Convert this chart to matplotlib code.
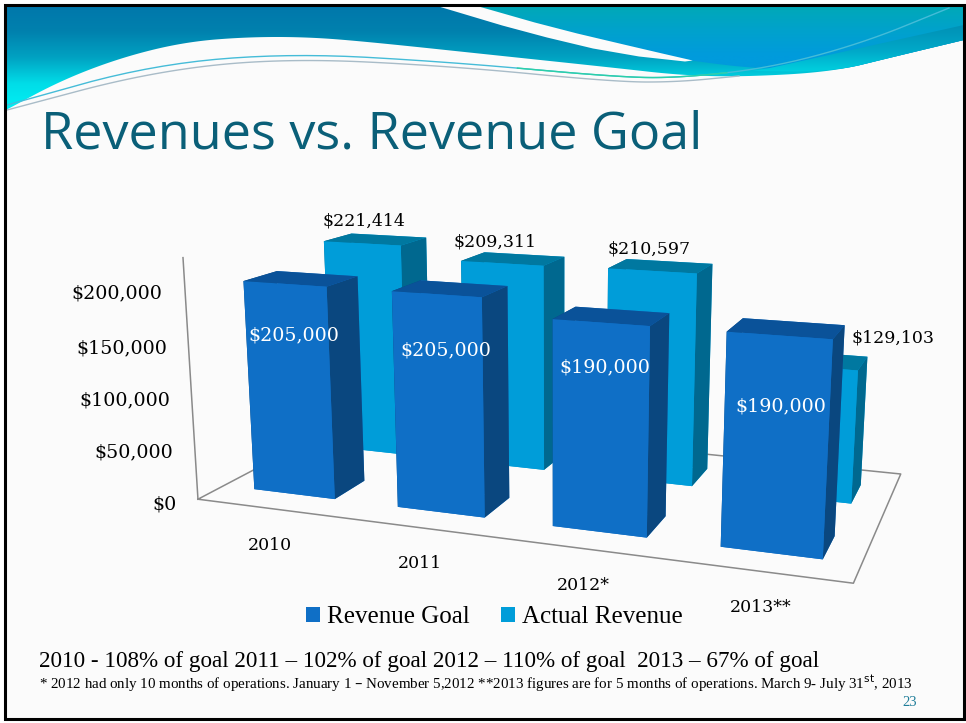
import numpy as np
import matplotlib
matplotlib.use('Agg')
import matplotlib.pyplot as plt
from matplotlib.patches import Rectangle, Polygon

# chart data
years = ["2010", "2011", "2012*", "2013**"]
goal = [205000, 205000, 190000, 190000]
actual = [221414, 209311, 210597, 129103]
goal_labels = ["$205,000", "$205,000", "$190,000", "$190,000"]
actual_labels = ["$221,414", "$209,311", "$210,597", "$129,103"]
value_ticks = ["$200,000", "$150,000", "$100,000", "$50,000", "$0"]
series_names = ["Revenue Goal", "Actual Revenue"]

W, H = 966, 723
fig = plt.figure(figsize=(W / 100, H / 100), dpi=100, facecolor="white")


def smooth(pts, n=4):
    # chaikin, only for the decorative waves
    pts = np.array(pts, dtype=float)
    for _ in range(n):
        q = 0.75 * pts[:-1] + 0.25 * pts[1:]
        r = 0.25 * pts[:-1] + 0.75 * pts[1:]
        mid = np.empty((len(q) * 2, 2))
        mid[0::2] = q
        mid[1::2] = r
        pts = np.vstack([pts[0], mid, pts[-1]])
    return pts


def gradient(ax, stops, ext, clip, z=1):
    cols = np.array([matplotlib.colors.to_rgb(c) for c in stops])
    t = np.linspace(0, 1, 256)
    img = np.stack([np.interp(t, np.linspace(0, 1, len(cols)), cols[:, i]) for i in range(3)], axis=1)
    im = ax.imshow(img[:, None, :], extent=ext, aspect="auto", zorder=z)
    poly = Polygon(clip, closed=True, transform=ax.transData, facecolor="none", edgecolor="none")
    ax.add_patch(poly)
    im.set_clip_path(poly)


# slide background
bg = fig.add_axes([0, 0, 1, 1], zorder=0)
bg.add_patch(Rectangle((5, 5), 959, 714, facecolor="#fbfbfb", edgecolor="none", zorder=0))

wave_low = smooth([(6, 110), (62, 80), (123, 57), (185, 42), (246, 37), (308, 37), (370, 42), (493, 55),
                   (616, 68), (678, 75), (739, 77), (832, 72), (893, 57), (964, 40)])
left_wave = np.vstack([[(6, 5)], wave_low, [(964, 5)]])
gradient(bg, ["#0077ab", "#0081ae", "#00a2c2", "#00dde8", "#00f0f5"], (6, 964, 110, 5), left_wave)

band = smooth([(437, 5), (524, 32), (616, 50), (708, 63), (752, 68), (832, 72), (893, 57), (964, 40)], 3)
band_right = np.vstack([[(964, 5), (437, 5)], band])
white_band = smooth([(437, 6), (524, 32), (616, 54), (708, 64), (647, 50), (554, 28), (477, 6)], 1)
gradient(bg, ["#00a9b6", "#00a2cc", "#009bdc", "#009bdc"], (437, 964, 80, 5), band_right)
bg.add_patch(Polygon(white_band, closed=True, facecolor="#fbfbfb", edgecolor="none", zorder=2))
low_edge = smooth([(752, 71), (832, 72), (893, 57), (964, 40)], 3)
low_band = np.vstack([[(964, 25), (770, 68)], low_edge])
gradient(bg, ["#0090b5", "#00a8c8", "#00d8e4"], (700, 964, 76, 25), low_band, z=2)

line_a = smooth([(7, 105), (150, 65), (290, 53), (450, 62), (616, 77), (678, 78), (770, 68), (863, 43), (949, 8)])
line_b = smooth([(7, 110), (150, 72), (283, 58), (450, 66), (616, 82), (678, 82), (739, 76)])
green = (line_a[:, 0] > 510) & (line_a[:, 0] < 730)
bg.plot(line_a[:, 0], line_a[:, 1], color="#45bcd8", lw=1.0, zorder=3)
bg.plot(line_a[green, 0], line_a[green, 1], color="#2bd0a8", lw=1.0, zorder=3)
bg.plot(line_b[:, 0], line_b[:, 1], color="#a9bcc8", lw=1.0, zorder=3)
bg.add_patch(Rectangle((5, 5), 959, 714, facecolor="none", edgecolor="black", lw=2.2, zorder=5))
bg.set_xlim(0, W)
bg.set_ylim(H, 0)
bg.axis("off")

side = 1000
cx, cy = 559, 371
focal = 1430 * 0.185 / side
left = cx - 0.5135 * side
bottom = H - cy - 0.5135 * side
ax = fig.add_axes([left / W, bottom / H, side / W, side / H], projection="3d",
                  computed_zorder=False, zorder=1)
ax.patch.set_alpha(0)
ax.set_axis_off()
# mplot3d moves the eye with the focal length, so the zoom has to follow it
ax.set_box_aspect((4, 2, 1.5), zoom=2.79 * focal)
ax.view_init(elev=13.5, azim=-70)
ax.set_proj_type("persp", focal_length=focal)

z_max = 232000
ax.set_xlim(0, 4, view_margin=0)
ax.set_ylim(0, 2, view_margin=0)
ax.set_zlim(0, z_max, view_margin=0)

floor_col = "#8a8a8a"
ax.plot([0, 4, 4, 0, 0], [0, 0, 2, 2, 0], [0, 0, 0, 0, 0], color=floor_col, lw=1.1, zorder=1)
ax.plot([0, 0], [0, 0], [0, z_max], color=floor_col, lw=1.1, zorder=1)

bar_dx = 0.57
bar_dy = 0.39
off_x = 0.22
off_y = 0.29
idx = np.arange(len(years))
xs = np.concatenate([idx + off_x, idx + off_x])
ys = np.concatenate([np.full(len(idx), off_y), np.full(len(idx), 1 + off_y)])
hs = np.concatenate([goal, actual])

# faces : -z, +z, -y, +y, -x, +x
goal_faces = ["#0f6fc6", "#0a5299", "#0f6fc6", "#0f6fc6", "#0a477f", "#0a477f"]
actual_faces = ["#009dd9", "#0078a0", "#009dd9", "#009dd9", "#00688f", "#00688f"]
face_cols = goal_faces * len(idx) + actual_faces * len(idx)
ax.bar3d(xs, ys, np.zeros(len(xs)), bar_dx, bar_dy, hs, color=face_cols, shade=False, zorder=2)


def txt(px, py, s, **kw):
    return fig.text(px / W, 1 - py / H, s, **kw)


serif = "DejaVu Serif"
txt(41, 135, "Revenues vs. Revenue Goal", family="Open Sans", fontsize=37.5, color="#0a5f78", va="center")

tick_pos = [(162, 293), (167, 348), (170, 400), (173, 452), (177, 504)]
for (px, py), s in zip(tick_pos, value_ticks):
    txt(px, py, s, family=serif, fontsize=13.7, color="black", ha="right", va="center")

year_pos = [(270, 545), (420, 564), (583, 585), (761, 608)]
for (px, py), s in zip(year_pos, years):
    txt(px, py, s, family=serif, fontsize=12.5, color="black", ha="center", va="center")

goal_pos = [(294, 335), (446, 350), (605, 367), (781, 406)]
for (px, py), s in zip(goal_pos, goal_labels):
    txt(px, py, s, family=serif, fontsize=13.7, color="white", ha="center", va="center")

actual_pos = [(364, 221), (495, 242), (649, 249), (893, 338)]
for (px, py), s in zip(actual_pos, actual_labels):
    txt(px, py, s, family=serif, fontsize=12.5, color="black", ha="center", va="center")

handles = [Rectangle((0, 0), 1, 1, facecolor=goal_faces[0]), Rectangle((0, 0), 1, 1, facecolor=actual_faces[0])]
fig.legend(handles, series_names, ncol=2, frameon=False, loc="center left",
           bbox_to_anchor=(306 / W, 1 - 617 / H), prop={"family": "Liberation Serif", "size": 18},
           handlelength=0.56, handleheight=0.56, handletextpad=0.28, columnspacing=1.24, borderpad=0,
           borderaxespad=0)

txt(39, 661, "2010 - 108% of goal 2011 \u2013 102% of goal 2012 \u2013 110% of goal  2013 \u2013 67% of goal",
    family="Liberation Serif", fontsize=16.65, color="black", va="center")
txt(39, 683, "* 2012 had only 10 months of operations. January 1 \u2013 November 5,2012 **2013 figures are for 5 months "
    "of operations. March 9- July 31$^{\\mathrm{st}}$, 2013",
    family="Liberation Serif", fontsize=10.8, color="black", va="center")
txt(910, 703, "23", family="Liberation Serif", fontsize=10.5, color="#1f7d99", ha="center", va="center")

plt.savefig("out.png", dpi=100)
